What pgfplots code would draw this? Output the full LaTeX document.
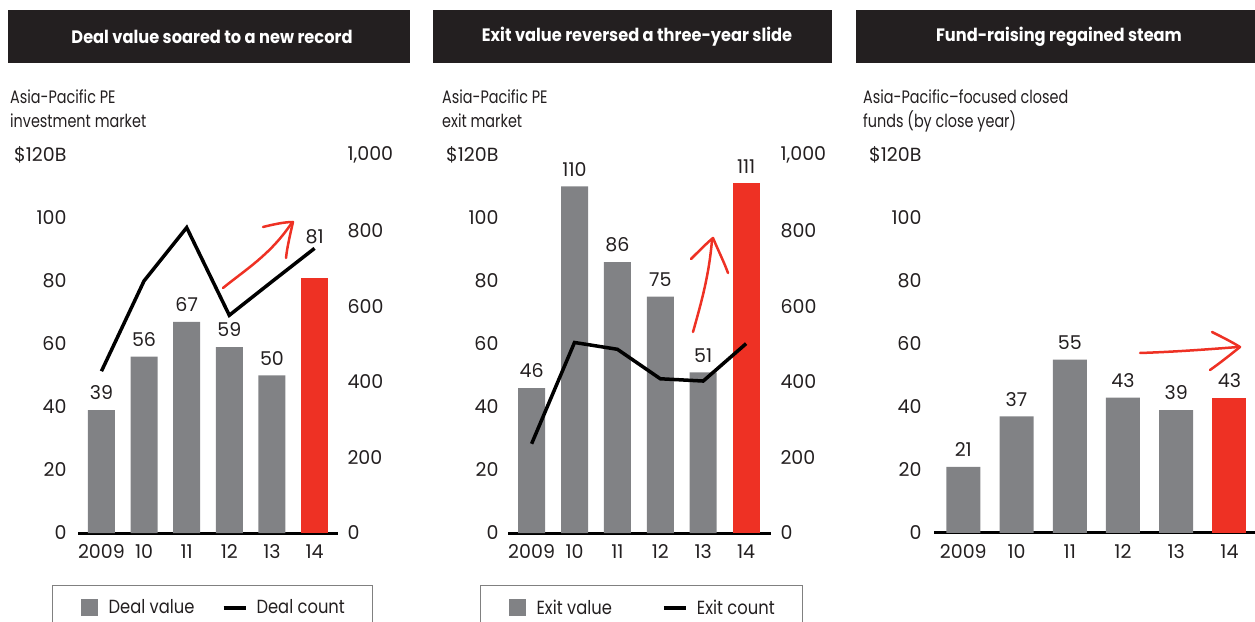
\documentclass[border=0pt]{standalone}
\usepackage{fontspec}
\setmainfont{Poppins}[FakeStretch=0.8]
\newfontfamily\numfont{Poppins}
\newfontfamily\legfont{Poppins}[FakeStretch=0.86]
\newfontfamily\hdrfont{Poppins}[FakeStretch=0.9]
\usepackage{pgfplots}
\pgfplotsset{compat=1.18}
\definecolor{barg}{HTML}{818285}
\definecolor{bred}{HTML}{EE3124}
\definecolor{hdr}{HTML}{231F20}
\definecolor{txt}{HTML}{231F20}
\pgfplotsset{
  base/.style={
    scale only axis, height=378pt,
    ymin=0, ymax=120, xmin=-0.55,
    axis x line=bottom, axis y line=left,
    x axis line style={line width=3pt, -},
    y axis line style={draw=none},
    xtick={0,...,5}, xticklabels={2009,10,11,12,13,14},
    ytick={0,20,...,120}, yticklabels={0,20,40,60,80,100,\$120B},
    major tick length=0pt, tick style={draw=none},
    tick label style={font=\fontsize{19}{22}\numfont},
    xticklabel style={yshift=-8pt},
    ybar, bar shift=0pt,
    clip=false,
    /pgf/number format/assume math mode=true,
    nodes near coords,
    every node near coord/.append style={inner sep=0pt, yshift=10pt, text=txt, font=\fontsize{19}{22}\numfont},
    legend columns=2,
    legend style={draw=gray, line width=1.2pt, inner xsep=28pt, inner ysep=13.5pt,
      font=\fontsize{19}{22}\legfont,
      nodes={inner sep=0pt, text=txt}, anchor=north west,
      /tikz/column 1/.style={column sep=11pt},
      /tikz/column 3/.style={column sep=9pt}},
  },
  rightax/.style={
    scale only axis, height=378pt,
    ymin=0, ymax=1000, xmin=-0.55,
    axis y line*=right, axis x line=none,
    y axis line style={draw=none},
    ytick={0,200,...,1000}, yticklabels={0,200,400,600,800,{1,000}},
    major tick length=0pt, tick style={draw=none},
    tick label style={font=\fontsize{19}{22}\numfont},
    yticklabel style={xshift=6pt},
    clip=false,
  },
  sq/.style={legend image code/.code={\fill[barg] (0pt,-8.5pt) rectangle (17pt,8.5pt);}},
  dsh/.style={legend image code/.code={\draw[black,line width=4pt] (0pt,0pt) -- (22pt,0pt);}},
}
\tikzset{arr/.style={draw=bred, line width=2.5pt, line cap=round, line join=round}}
\begin{document}
\begin{tikzpicture}[font=\fontsize{18}{22}\selectfont, text=txt]
% ---------- Panel 1 ----------
\begin{axis}[base, at={(78pt,88pt)}, anchor=south west, width=260pt, xmax=5.55,
  yticklabel style={xshift=-8pt},
  legend style={at={(-0.1,-0.1376)}, /tikz/column 2/.style={column sep=27pt}}]
\addplot[fill=barg, draw=none, bar width=27pt, sq] coordinates {(0,39) (1,56) (2,67) (3,59) (4,50)};
\addlegendentry{Deal value}
\addlegendimage{dsh}
\addlegendentry{Deal count}
\addplot[fill=bred, draw=none, bar width=27pt, forget plot,
  every node near coord/.append style={yshift=24pt}] coordinates {(5,81)};
\end{axis}
\begin{axis}[rightax, at={(78pt,88pt)}, anchor=south west, width=260pt, xmax=5.55]
\addplot[black, line width=3.5pt, mark=none] coordinates {(0,428) (1,667) (2,808) (3,576) (4,665) (5,753)};
\end{axis}
% ---------- Panel 2 ----------
\begin{axis}[base, at={(508pt,88pt)}, anchor=south west, width=263pt, xmax=5.58,
  yticklabel style={xshift=-6pt},
  legend style={at={(-0.1065,-0.1376)}, /tikz/column 2/.style={column sep=50pt}}]
\addplot[fill=barg, draw=none, bar width=27pt, sq] coordinates {(0,46) (1,110) (2,86) (3,75) (4,51)};
\addlegendentry{Exit value}
\addlegendimage{dsh}
\addlegendentry{Exit count}
\addplot[fill=bred, draw=none, bar width=27pt, forget plot] coordinates {(5,111)};
\end{axis}
\begin{axis}[rightax, at={(508pt,88pt)}, anchor=south west, width=263pt, xmax=5.58]
\addplot[black, line width=3.5pt, mark=none] coordinates {(0,236) (1,504) (2,486) (3,408) (4,402) (5,501)};
\end{axis}
% ---------- Panel 3 ----------
\begin{axis}[base, at={(934pt,88pt)}, anchor=south west, width=321pt, xmax=5.48,
  yticklabel style={xshift=-9pt}]
\addplot[fill=barg, draw=none, bar width=34pt] coordinates {(0,21) (1,37) (2,55) (3,43) (4,39)};
\addplot[fill=bred, draw=none, bar width=34pt] coordinates {(5,43)};
\end{axis}
% ---------- decorations ----------
\begin{scope}[x=1pt, y=-1pt, yshift=621pt]
\fill[hdr] (8,10) rectangle (410,63);
\fill[hdr] (433,10) rectangle (832,63);
\fill[hdr] (856,10) rectangle (1255,63);
\node[text=white, font=\fontsize{18}{20}\hdrfont\bfseries] at (212,36.5) {Deal value soared to a new record};
\node[text=white, font=\fontsize{18}{20}\hdrfont\bfseries] at (637,36.5) {Exit value reversed a three-year slide};
\node[text=white, font=\fontsize{18}{20}\hdrfont\bfseries] at (1059,36.5) {Fund-raising regained steam};
\node[anchor=base west, inner sep=0pt] at (10,103.5) {Asia-Pacific PE};
\node[anchor=base west, inner sep=0pt] at (10,127.5) {investment market};
\node[anchor=base west, inner sep=0pt] at (442,103.5) {Asia-Pacific PE};
\node[anchor=base west, inner sep=0pt] at (442,127.5) {exit market};
\node[anchor=base west, inner sep=0pt] at (863,103.5) {Asia-Pacific–focused closed};
\node[anchor=base west, inner sep=0pt] at (863,127.5) {funds (by close year)};
% arrows
\draw[arr] (223,288) .. controls (245,270) and (270,255) .. (291,224);
\draw[arr] (263,227) .. controls (275,224) and (285,222) .. (293,222) .. controls (290,235) and (287,248) .. (286,258);
\draw[arr] (693,332) .. controls (702,300) and (709,275) .. (712,240);
\draw[arr] (691,259) .. controls (700,250) and (708,242) .. (713,238) .. controls (718,250) and (724,262) .. (728,273);
\draw[arr] (1140,353) .. controls (1170,352) and (1200,350) .. (1238,347);
\draw[arr] (1212,332) .. controls (1222,337) and (1232,342) .. (1240,347) .. controls (1230,355) and (1220,363) .. (1210,370);
\end{scope}
\pgfresetboundingbox
\useasboundingbox (0pt,0pt) rectangle (1255pt,621pt);
\end{tikzpicture}
\end{document}
